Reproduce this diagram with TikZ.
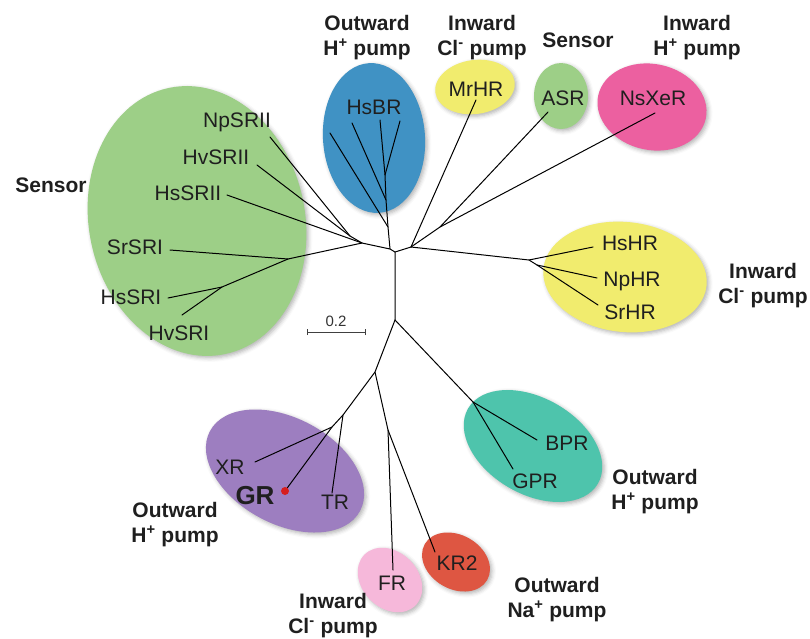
\documentclass[tikz,border=0pt]{standalone}
\usepackage{fontspec}
\setmainfont{Liberation Sans}
\usetikzlibrary{shapes.geometric,shadows.blur}
\definecolor{sgreen}{RGB}{157,207,135}
\definecolor{bblue}{RGB}{64,146,196}
\definecolor{yyellow}{RGB}{241,236,110}
\definecolor{ppink}{RGB}{236,96,160}
\definecolor{tteal}{RGB}{78,196,172}
\definecolor{ppurple}{RGB}{157,126,192}
\definecolor{lpink}{RGB}{246,184,218}
\definecolor{rred}{RGB}{222,86,66}
\definecolor{dotred}{RGB}{214,30,30}

\begin{document}
\begin{tikzpicture}[x=1pt,y=-1pt,
	every node/.style={inner sep=0pt,outer sep=0pt},
	leaf/.style={font=\fontsize{21}{25}\selectfont,text=black!88,text height=15pt,text depth=0pt},
	group/.style={font=\fontsize{21}{25}\selectfont\bfseries,align=center,text=black!88,anchor=north},
	blob/.style={ellipse,draw=none,blur shadow={shadow xshift=2pt,shadow yshift=-2pt,shadow blur radius=4pt,shadow opacity=30}},
	branch/.style={line width=1pt,black,line cap=round,line join=round}]
	
	\useasboundingbox (0,0) rectangle (810,638);
	
	% coloured groups
	\node[blob,fill=sgreen,minimum width=216pt,minimum height=272pt,rotate=12] (sensII) at (197,221) {};
	\node[blob,fill=bblue,minimum width=102pt,minimum height=150pt,rotate=4] (bgrp) at (374,138) {};
	\node[blob,fill=yyellow,minimum width=80pt,minimum height=54pt,rotate=8] (mgrp) at (475,87) {};
	\node[blob,fill=sgreen,minimum width=54pt,minimum height=66pt] (agrp) at (561,96) {};
	\node[blob,fill=ppink,minimum width=110pt,minimum height=86pt,rotate=-12] (xgrp) at (652,107) {};
	\node[blob,fill=yyellow,minimum width=164pt,minimum height=110pt,rotate=-6] (hgrp) at (625,277) {};
	\node[blob,fill=tteal,minimum width=150pt,minimum height=96pt,rotate=-30] (pgrp) at (533,446) {};
	\node[blob,fill=ppurple,minimum width=170pt,minimum height=106pt,rotate=-28] (ggrp) at (285,471) {};
	\node[blob,fill=lpink,minimum width=72pt,minimum height=56pt,rotate=-45] (fgrp) at (390,580) {};
	\node[blob,fill=rred,minimum width=72pt,minimum height=54pt,rotate=-30] (kgrp) at (456,562) {};
	
	% inner nodes of the tree
	\coordinate (r) at (395,252);
	\coordinate (nl) at (390,249);
	\coordinate (nr) at (411,247);
	\coordinate (bc) at (388,227);
	\coordinate (bc2) at (386,200);
	\coordinate (bc3) at (385,175);
	\coordinate (sc) at (362,243);
	\coordinate (s2c) at (350,236);
	\coordinate (s1c) at (288,259);
	\coordinate (s1b) at (222,287);
	\coordinate (ac) at (440,227);
	\coordinate (hc) at (529,260);
	\coordinate (hc2) at (537,265);
	\coordinate (m) at (395,320);
	\coordinate (bgc) at (473,402);
	\coordinate (lc) at (375,372);
	\coordinate (fk) at (388,430);
	\coordinate (gtc) at (343,415);
	\coordinate (xgc) at (332,427);
	
	% leaf ends
	\coordinate (e1) at (330,133);
	\coordinate (e2) at (352,123);
	\coordinate (e3) at (380,120);
	\coordinate (e4) at (400,121);
	\coordinate (enp) at (270,137);
	\coordinate (ehv2) at (257,165);
	\coordinate (ehs2) at (227,195);
	\coordinate (esr1) at (170,250);
	\coordinate (ehs1) at (168,298);
	\coordinate (ehv1) at (182,315);
	\coordinate (emr) at (476,100);
	\coordinate (easr) at (548,112);
	\coordinate (exe) at (655,113);
	\coordinate (ehhr) at (593,247);
	\coordinate (enhr) at (597,278);
	\coordinate (eshr) at (598,305);
	\coordinate (ebpr) at (537,440);
	\coordinate (egpr) at (513,469);
	\coordinate (etr) at (332,493);
	\coordinate (exr) at (255,462);
	\coordinate (egr) at (285,491);
	\coordinate (efr) at (393,570);
	\coordinate (ekr) at (435,552);
	
	% branches
	\draw[branch] (m) -- (r) -- (nl) -- (bc) -- (bc2) -- (bc3) -- (e4);
	\draw[branch] (bc3) -- (e3);
	\draw[branch] (bc2) -- (e2);
	\draw[branch] (bc) -- (e1);
	\draw[branch] (nl) -- (sc) -- (s2c) -- (enp);
	\draw[branch] (s2c) -- (ehv2);
	\draw[branch] (sc) -- (ehs2);
	\draw[branch] (sc) -- (s1c) -- (esr1);
	\draw[branch] (s1c) -- (s1b) -- (ehs1);
	\draw[branch] (s1b) -- (ehv1);
	\draw[branch] (r) -- (nr) -- (emr);
	\draw[branch] (nr) -- (ac) -- (easr);
	\draw[branch] (ac) -- (exe);
	\draw[branch] (nr) -- (hc) -- (ehhr);
	\draw[branch] (hc) -- (hc2) -- (enhr);
	\draw[branch] (hc2) -- (eshr);
	\draw[branch] (m) -- (bgc) -- (ebpr);
	\draw[branch] (bgc) -- (egpr);
	\draw[branch] (m) -- (lc) -- (fk) -- (efr);
	\draw[branch] (fk) -- (ekr);
	\draw[branch] (lc) -- (gtc) -- (etr);
	\draw[branch] (gtc) -- (xgc) -- (exr);
	\draw[branch] (xgc) -- (egr);
	\fill[dotred] (egr) circle (4);
	
	% leaf labels
	\node[leaf] (hsbr) at (374,107) {HsBR};
	\node[leaf] (npsrii) at (237,120) {NpSRII};
	\node[leaf] (hvsrii) at (216,157) {HvSRII};
	\node[leaf] (hssrii) at (188,193) {HsSRII};
	\node[leaf] (srsri) at (135,247) {SrSRI};
	\node[leaf] (hssri) at (131,297) {HsSRI};
	\node[leaf] (hvsri) at (179,333) {HvSRI};
	\node[leaf] (mrhr) at (476,89) {MrHR};
	\node[leaf] (asr) at (563,98) {ASR};
	\node[leaf] (nsxer) at (653,98) {NsXeR};
	\node[leaf] (hshr) at (630,243) {HsHR};
	\node[leaf] (nphr) at (632,279) {NpHR};
	\node[leaf] (srhr) at (630,312) {SrHR};
	\node[leaf] (bpr) at (567,443) {BPR};
	\node[leaf] (gpr) at (535,481) {GPR};
	\node[leaf] (xr) at (230,467) {XR};
	\node[leaf,font=\fontsize{26}{30}\selectfont\bfseries,text height=19pt] (gr) at (255,495) {GR};
	\node[leaf] (tr) at (335,502) {TR};
	\node[leaf] (fr) at (392,583) {FR};
	\node[leaf] (kr2) at (457,563) {KR2};
	
	% function of each group
	\node[group] (lbout) at (367,15) {Outward\\H\textsuperscript{+} pump};
	\node[group] (lbinm) at (482,15) {Inward\\Cl\textsuperscript{-} pump};
	\node[group] (lbsasr) at (578,33) {Sensor};
	\node[group] (lbinx) at (697,15) {Inward\\H\textsuperscript{+} pump};
	\node[group] (lbsens) at (51,178) {Sensor};
	\node[group] (lbinh) at (763,263) {Inward\\Cl\textsuperscript{-} pump};
	\node[group] (lboutp) at (655,469) {Outward\\H\textsuperscript{+} pump};
	\node[group] (lboutg) at (175,502) {Outward\\H\textsuperscript{+} pump};
	\node[group] (lbinf) at (333,593) {Inward\\Cl\textsuperscript{-} pump};
	\node[group] (lboutk) at (557,577) {Outward\\Na\textsuperscript{+} pump};
	
	% scale bar
	\coordinate (sb1) at (307,332);
	\coordinate (sb2) at (365,332);
	\draw[line width=1pt,black!75] (sb1) -- (sb2);
	\draw[line width=1pt,black!75] ([yshift=-3pt]sb1) -- ([yshift=3pt]sb1);
	\draw[line width=1pt,black!75] ([yshift=-3pt]sb2) -- ([yshift=3pt]sb2);
	\node[font=\fontsize{15}{18}\selectfont,text=black!80,anchor=base] (sbl) at (336,326) {0.2};
	
\end{tikzpicture}
\end{document}
